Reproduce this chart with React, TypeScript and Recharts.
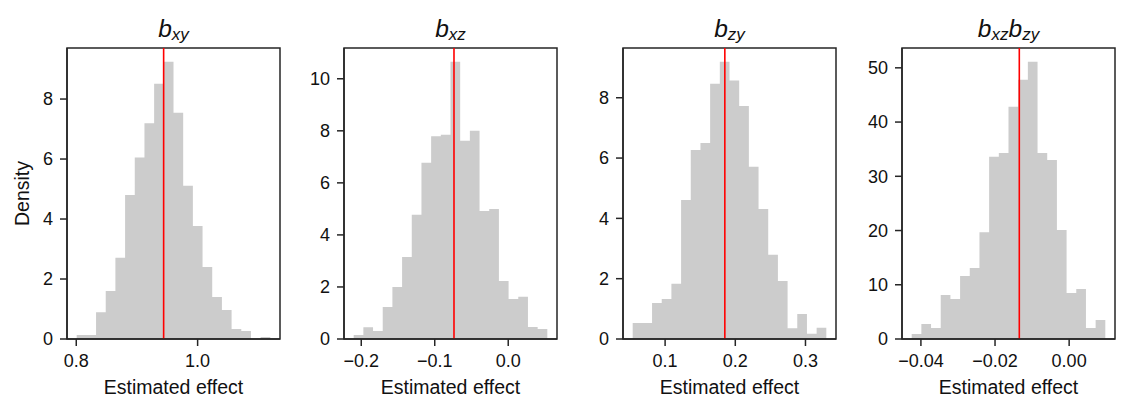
import { Area, ComposedChart, ReferenceArea, ReferenceLine, XAxis, YAxis } from 'recharts'

const FONT = '"Liberation Sans", Arial, Helvetica, sans-serif'
const BAR = '#cccccc'
const INK = '#262626'

// each histogram: sample min / max (20 equal bins between them), densities, mean
const bxyRange = [0.8007, 1.1198]
const bxyDensity = [0.13, 0.13, 0.89, 1.6, 2.71, 4.8, 6.05, 7.19, 8.51, 9.24, 7.54, 5.11, 3.77, 2.4, 1.4, 0.97, 0.33, 0.27, 0, 0.07]
const bxyMean = 0.944
const bxyXTicks = [0.8, 1.0]
const bxyYTicks = [0, 2, 4, 6, 8]

const bxzRange = [-0.2103, 0.0532]
const bxzDensity = [0.15, 0.45, 0.31, 1.23, 2.0, 3.15, 4.77, 6.77, 7.79, 7.85, 10.65, 7.62, 8.0, 4.92, 5.0, 2.23, 1.54, 1.62, 0.46, 0.38]
const bxzMean = -0.0738
const bxzXTicks = [-0.2, -0.1, 0]
const bxzYTicks = [0, 2, 4, 6, 8, 10]

const bzyRange = [0.0538, 0.3297]
const bzyDensity = [0.53, 0.53, 1.19, 1.33, 1.83, 4.61, 6.27, 6.5, 8.46, 9.19, 8.57, 7.73, 5.71, 4.31, 2.79, 1.92, 0.36, 0.83, 0.17, 0.37]
const bzyMean = 0.1851
const bzyXTicks = [0.1, 0.2, 0.3]
const bzyYTicks = [0, 2, 4, 6, 8]

const prodRange = [-0.04249, 0.00976]
const prodDensity = [0.92, 2.77, 2.03, 8.12, 7.38, 11.6, 13.1, 19.7, 33.6, 34.3, 42.8, 47.8, 51.1, 34.3, 33.0, 20.1, 8.49, 9.23, 2.03, 3.5]
const prodMean = -0.01345
const prodXTicks = [-0.04, -0.02, 0]
const prodYTicks = [0, 10, 20, 30, 40, 50]

type Sub = { t: string; sub?: boolean }

interface PanelDef {
  title: Sub[]
  range: number[]
  density: number[]
  mean: number
  xTicks: number[]
  yTicks: number[]
  digits: number
  plotLeft: number
}

const panels: PanelDef[] = [
  { title: [{ t: 'b' }, { t: 'xy', sub: true }], range: bxyRange, density: bxyDensity, mean: bxyMean, xTicks: bxyXTicks, yTicks: bxyYTicks, digits: 1, plotLeft: 67 },
  { title: [{ t: 'b' }, { t: 'xz', sub: true }], range: bxzRange, density: bxzDensity, mean: bxzMean, xTicks: bxzXTicks, yTicks: bxzYTicks, digits: 1, plotLeft: 344 },
  { title: [{ t: 'b' }, { t: 'zy', sub: true }], range: bzyRange, density: bzyDensity, mean: bzyMean, xTicks: bzyXTicks, yTicks: bzyYTicks, digits: 1, plotLeft: 623 },
  {
    title: [{ t: 'b' }, { t: 'xz', sub: true }, { t: 'b' }, { t: 'zy', sub: true }],
    range: prodRange, density: prodDensity, mean: prodMean, xTicks: prodXTicks, yTicks: prodYTicks, digits: 2, plotLeft: 902,
  },
]

const PLOT_W = 213
const PLOT_TOP = 48
const PLOT_BOTTOM = 339
const H = 413
const AXW = 64

const fmt = (digits: number) => (v: number) => {
  const s = (Math.abs(v) < 1e-9 ? 0 : v).toFixed(digits)
  return s.replace('-', '\u2212')
}

function Panel({ p, first }: { p: PanelDef; first: boolean }) {
  const [lo, hi] = p.range
  const n = p.density.length
  const w = (hi - lo) / n
  // step-area points at each bin edge; the last edge repeats the last bin
  const data = p.density.map((d, i) => ({ x: lo + i * w, d }))
  data.push({ x: hi, d: p.density[n - 1] })
  const pad = (hi - lo) * 0.05
  const xDomain = [lo - pad, hi + pad]
  const yDomain = [0, Math.max(...p.density) * 1.05]
  const chartLeft = p.plotLeft - AXW
  const tick = { fill: '#111', fontSize: 18, fontFamily: FONT }
  const line = { stroke: INK, strokeWidth: 1.5 }

  let sub = false
  return (
    <>
      <svg style={{ position: 'absolute', left: p.plotLeft, top: 0 }} width={PLOT_W} height={PLOT_TOP}>
        <text x={PLOT_W / 2} y={36.7} textAnchor="middle" fontFamily={FONT} fontStyle="italic" fill="#111">
          {p.title.map((s, i) => {
            const dy = s.sub && !sub ? 3 : !s.sub && sub ? -3 : 0
            sub = !!s.sub
            return (
              <tspan key={i} dy={dy} fontSize={s.sub ? 17 : 24.5}>
                {s.t}
              </tspan>
            )
          })}
        </text>
      </svg>
      <div style={{ position: 'absolute', left: chartLeft, top: 0 }}>
        <ComposedChart
          width={AXW + PLOT_W + 3}
          height={H}
          data={data}
          margin={{ top: PLOT_TOP, right: 3, bottom: 0, left: 0 }}
        >
          <XAxis
            dataKey="x"
            type="number"
            domain={xDomain}
            allowDataOverflow
            ticks={p.xTicks}
            tickFormatter={fmt(p.digits)}
            height={H - PLOT_BOTTOM}
            tickSize={7}
            tickMargin={8}
            tick={tick}
            tickLine={line}
            axisLine={line}
            label={{ value: 'Estimated effect', position: 'insideBottom', offset: 19, style: { fill: '#111', fontSize: 19.5, fontFamily: FONT } }}
          />
          <YAxis
            type="number"
            domain={yDomain}
            allowDataOverflow
            ticks={p.yTicks}
            width={AXW}
            tickSize={7}
            tickMargin={7}
            tick={tick}
            tickLine={line}
            axisLine={line}
            label={
              first
                ? { value: 'Density', angle: -90, position: 'insideLeft', offset: 22 - chartLeft, style: { textAnchor: 'middle', fill: '#111', fontSize: 19.5, fontFamily: FONT } }
                : undefined
            }
          />
          <Area
            type="stepAfter"
            dataKey="d"
            fill={BAR}
            fillOpacity={1}
            stroke="none"
            dot={false}
            activeDot={false}
            isAnimationActive={false}
          />
          <ReferenceLine x={p.mean} stroke="#ff0000" strokeWidth={1.6} />
          {/* axes frame (matplotlib spines) */}
          <ReferenceArea
            x1={xDomain[0]}
            x2={xDomain[1]}
            y1={yDomain[0]}
            y2={yDomain[1]}
            fill="none"
            fillOpacity={0}
            stroke={INK}
            strokeWidth={1.5}
            ifOverflow="visible"
          />
        </ComposedChart>
      </div>
    </>
  )
}

export default function App() {
  return (
    <div style={{ position: 'absolute', left: 0, top: 0, width: 1132, height: H, background: '#fff', fontFamily: FONT }}>
      {panels.map((p, i) => (
        <Panel key={i} p={p} first={i === 0} />
      ))}
    </div>
  )
}
